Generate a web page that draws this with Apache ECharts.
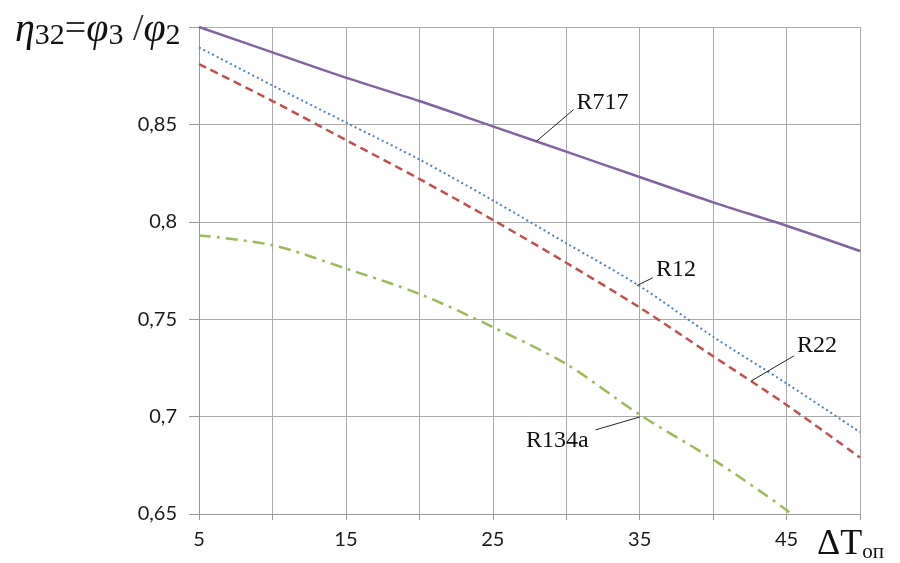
<!DOCTYPE html>
<html>
<head>
<meta charset="utf-8">
<script src="https://cdn.jsdelivr.net/npm/echarts@6/dist/echarts.min.js"></script>
<style>
  html, body { margin: 0; padding: 0; background: #fff; }
  #main { width: 900px; height: 563px; }
</style>
</head>
<body>
<div id="main"></div>
<script>
// ΔT values (x axis)
var dT = [5, 10, 15, 20, 25, 30, 35, 40, 45, 50];
// η32 for each refrigerant
var r717 = [0.900, 0.887, 0.874, 0.862, 0.849, 0.836, 0.823, 0.810, 0.798, 0.785];
var r12 = [0.8895, 0.870, 0.851, 0.832, 0.811, 0.789, 0.767, 0.741, 0.717, 0.692];
var r22 = [0.881, 0.862, 0.842, 0.822, 0.801, 0.779, 0.756, 0.731, 0.706, 0.679];
var r134a = [0.793, 0.788, 0.776, 0.763, 0.746, 0.727, 0.701, 0.678, 0.652, 0.622];
// leader lines: [point on curve, label anchor]
var leaders = {
  R717: [[28.0, 0.8415], [30.5, 0.8576]],
  R12: [[34.8, 0.7672], [35.9, 0.7713]],
  R22: [[42.6, 0.7183], [45.5, 0.7312]],
  R134a: [[35.0, 0.6998], [32.0, 0.6932]]
};

function pairs(ys) {
  return dT.map(function (x, i) { return [x, ys[i]]; });
}

function leaderLine(name) {
  var p = leaders[name];
  return {
    silent: true,
    symbol: 'none',
    animation: false,
    lineStyle: { color: '#222', width: 1, type: 'solid' },
    label: { show: false },
    data: [[{ coord: p[0] }, { coord: p[1] }]]
  };
}

function leaderText(name, pos, offset) {
  return {
    silent: true,
    symbol: 'circle',
    symbolSize: 0,
    animation: false,
    label: {
      show: true,
      position: pos,
      distance: 3,
      offset: offset,
      formatter: name,
      fontFamily: 'Liberation Serif',
      fontSize: 24,
      color: '#111'
    },
    data: [{ coord: leaders[name][1] }]
  };
}

var myChart = echarts.init(document.getElementById('main'));
myChart.setOption({
  animation: false,
  title: [
    {
      text: '{e|η}{s|32}{n|=}{e|φ}{s|3}{n| /}{e|φ}{s|2}',
      left: 10,
      top: 4,
      textStyle: {
        rich: {
          e: { fontFamily: 'Liberation Serif', fontStyle: 'italic', fontWeight: 'normal', fontSize: 40, color: '#111' },
          s: { fontFamily: 'Liberation Serif', fontWeight: 'normal', fontSize: 30, color: '#111', padding: [12, 0, 0, 0] },
          n: { fontFamily: 'Liberation Serif', fontWeight: 'normal', fontSize: 38, color: '#333' }
        }
      }
    },
    {
      text: '{b|ΔT}{s|оп}',
      left: 812,
      top: 522,
      textStyle: {
        rich: {
          b: { fontFamily: 'Liberation Serif', fontWeight: 'normal', fontSize: 36, color: '#111' },
          s: { fontFamily: 'Liberation Serif', fontWeight: 'normal', fontSize: 21, color: '#111', padding: [15, 0, 0, 0] }
        }
      }
    }
  ],
  grid: { left: 199, right: 40, top: 27, bottom: 49 },
  xAxis: {
    type: 'value',
    min: 5,
    max: 50,
    interval: 5,
    axisLine: { show: true, lineStyle: { color: '#999' } },
    axisTick: { show: true, length: 6, lineStyle: { color: '#999' } },
    splitLine: { show: true, lineStyle: { color: '#aaa' } },
    axisLabel: {
      margin: 16,
      fontFamily: 'Lato',
      fontSize: 20,
      color: '#1a1a1a',
      formatter: function (v) { return (v - 5) % 10 === 0 && v < 50 ? String(v) : ''; }
    }
  },
  yAxis: {
    type: 'value',
    min: 0.65,
    max: 0.9,
    interval: 0.05,
    axisLine: { show: true, lineStyle: { color: '#999' } },
    axisTick: { show: true, length: 10, lineStyle: { color: '#999' } },
    splitLine: { show: true, lineStyle: { color: '#aaa' } },
    axisLabel: {
      margin: 22,
      fontFamily: 'Lato',
      fontSize: 20,
      color: '#1a1a1a',
      formatter: function (v) {
        if (v > 0.89) return '';
        return String(parseFloat(v.toFixed(2))).replace('.', ',');
      }
    }
  },
  series: [
    {
      name: 'R717', type: 'line', data: pairs(r717), showSymbol: false, smooth: 0.3,
      lineStyle: { color: '#8064a2', width: 2.5 },
      markLine: leaderLine('R717'),
      markPoint: leaderText('R717', 'right', [0, -7])
    },
    {
      name: 'R12', type: 'line', data: pairs(r12), showSymbol: false, smooth: 0.3,
      lineStyle: { color: '#4f81bd', width: 2, type: [2, 3] },
      markLine: leaderLine('R12'),
      markPoint: leaderText('R12', 'right', [0, -8])
    },
    {
      name: 'R22', type: 'line', data: pairs(r22), showSymbol: false, smooth: 0.3,
      lineStyle: { color: '#c0504d', width: 2.5, type: [8, 5] },
      markLine: leaderLine('R22'),
      markPoint: leaderText('R22', 'right', [0, -10])
    },
    {
      name: 'R134a', type: 'line', data: pairs(r134a), showSymbol: false, smooth: 0.3,
      lineStyle: { color: '#9bbb59', width: 2.5, type: [12, 6, 3, 6] },
      markLine: leaderLine('R134a'),
      markPoint: leaderText('R134a', 'left', [-4, 11])
    }
  ]
});
</script>
</body>
</html>
